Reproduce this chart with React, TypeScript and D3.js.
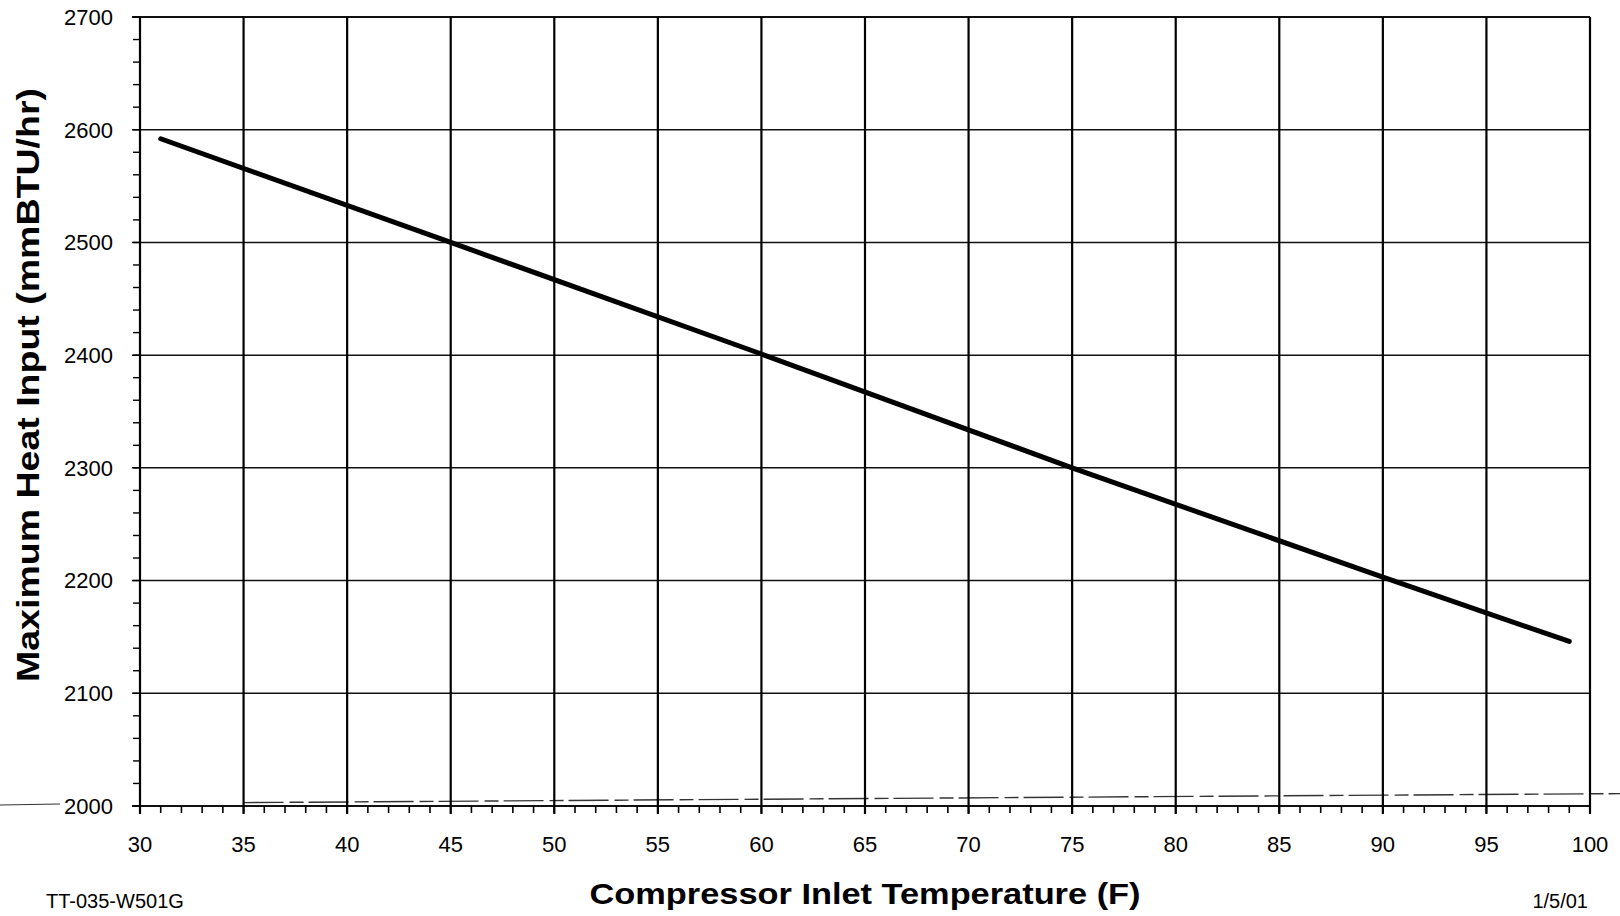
import React from "react";
import * as d3 from "d3";

const temps = [31, 45, 60, 75, 90, 99];
const heatInput = [2592, 2500, 2401, 2300, 2203, 2146];
const xTicks = [30, 35, 40, 45, 50, 55, 60, 65, 70, 75, 80, 85, 90, 95, 100];
const yTicks = [2000, 2100, 2200, 2300, 2400, 2500, 2600, 2700];
const xMinor = d3.range(30, 101, 1);
const yMinor = d3.range(2000, 2701, 20);
const xTitle = "Compressor Inlet Temperature (F)";
const yTitle = "Maximum Heat Input (mmBTU/hr)";
const footLeft = "TT-035-W501G";
const footRight = "1/5/01";
// faint scan streak near the bottom axis (data units)
const streakX = [35, 100];
const streakY = [2003, 2011];

const W = 1620;
const H = 916;
const FONT = "'Liberation Sans', Arial, sans-serif";

export default function App() {
  const x = d3.scaleLinear().domain([30, 100]).range([140, 1590]);
  const y = d3.scaleLinear().domain([2000, 2700]).range([806, 17]);
  const pts = temps.map((t, i) => [t, heatInput[i]] as [number, number]);
  const line = d3
    .line<[number, number]>()
    .x((d) => x(d[0]))
    .y((d) => y(d[1]));

  return (
    <div style={{ position: "absolute", left: 0, top: 0 }}>
      <svg width={W} height={H} style={{ display: "block", background: "#fff" }}>
        <rect x={0} y={0} width={W} height={H} fill="#fff" />
        {/* scan streak */}
        <line
          x1={x(streakX[0])}
          x2={W}
          y1={y(streakY[0])}
          y2={y(streakY[1])}
          stroke="#333"
          strokeWidth={1.4}
          strokeDasharray="40 6 14 5"
        />
        <line x1={0} x2={x(30) - 80} y1={y(2000) - 1} y2={y(2000) - 2} stroke="#333" strokeWidth={1} />
        {/* horizontal gridlines */}
        {yTicks.map((v) => (
          <line
            key={"h" + v}
            x1={x(30) - 8}
            x2={x(100)}
            y1={y(v)}
            y2={y(v)}
            stroke="#111"
            strokeWidth={v === 2000 || v === 2700 ? 2 : 1.5}
          />
        ))}
        {/* vertical gridlines */}
        {xTicks.map((v) => (
          <line
            key={"v" + v}
            x1={x(v)}
            x2={x(v)}
            y1={y(2700)}
            y2={y(2000) + 8}
            stroke="#000"
            strokeWidth={2.2}
          />
        ))}
        {/* minor ticks */}
        {xMinor.map((v) => (
          <line key={"mx" + v} x1={x(v)} x2={x(v)} y1={y(2000)} y2={y(2000) + 7} stroke="#000" strokeWidth={1.6} />
        ))}
        {yMinor.map((v) => (
          <line key={"my" + v} x1={x(30) - 7} x2={x(30)} y1={y(v)} y2={y(v)} stroke="#000" strokeWidth={1.4} />
        ))}
        {/* data line */}
        <path d={line(pts) || ""} fill="none" stroke="#000" strokeWidth={5} strokeLinecap="round" />
        {/* tick labels */}
        {yTicks.map((v) => (
          <text
            key={"yl" + v}
            x={x(30) - 27}
            y={y(v)}
            dy="0.36em"
            textAnchor="end"
            fontFamily={FONT}
            fontSize={22}
            fill="#000"
          >
            {v}
          </text>
        ))}
        {xTicks.map((v) => (
          <text
            key={"xl" + v}
            x={x(v)}
            y={852}
            textAnchor="middle"
            fontFamily={FONT}
            fontSize={22}
            fill="#000"
          >
            {v}
          </text>
        ))}
        {/* titles */}
        <text
          x={(x(30) + x(100)) / 2}
          y={904}
          textAnchor="middle"
          fontFamily={FONT}
          fontWeight="bold"
          fontSize={30}
          textLength={551}
          lengthAdjust="spacingAndGlyphs"
          fill="#000"
        >
          {xTitle}
        </text>
        <text
          transform={`translate(39, 385) rotate(-90)`}
          textAnchor="middle"
          fontFamily={FONT}
          fontWeight="bold"
          fontSize={31}
          textLength={594}
          lengthAdjust="spacingAndGlyphs"
          fill="#000"
        >
          {yTitle}
        </text>
        <text x={46} y={908} fontFamily={FONT} fontSize={20} fill="#000">
          {footLeft}
        </text>
        <text x={1588} y={908} textAnchor="end" fontFamily={FONT} fontSize={20} fill="#000">
          {footRight}
        </text>
      </svg>
    </div>
  );
}
